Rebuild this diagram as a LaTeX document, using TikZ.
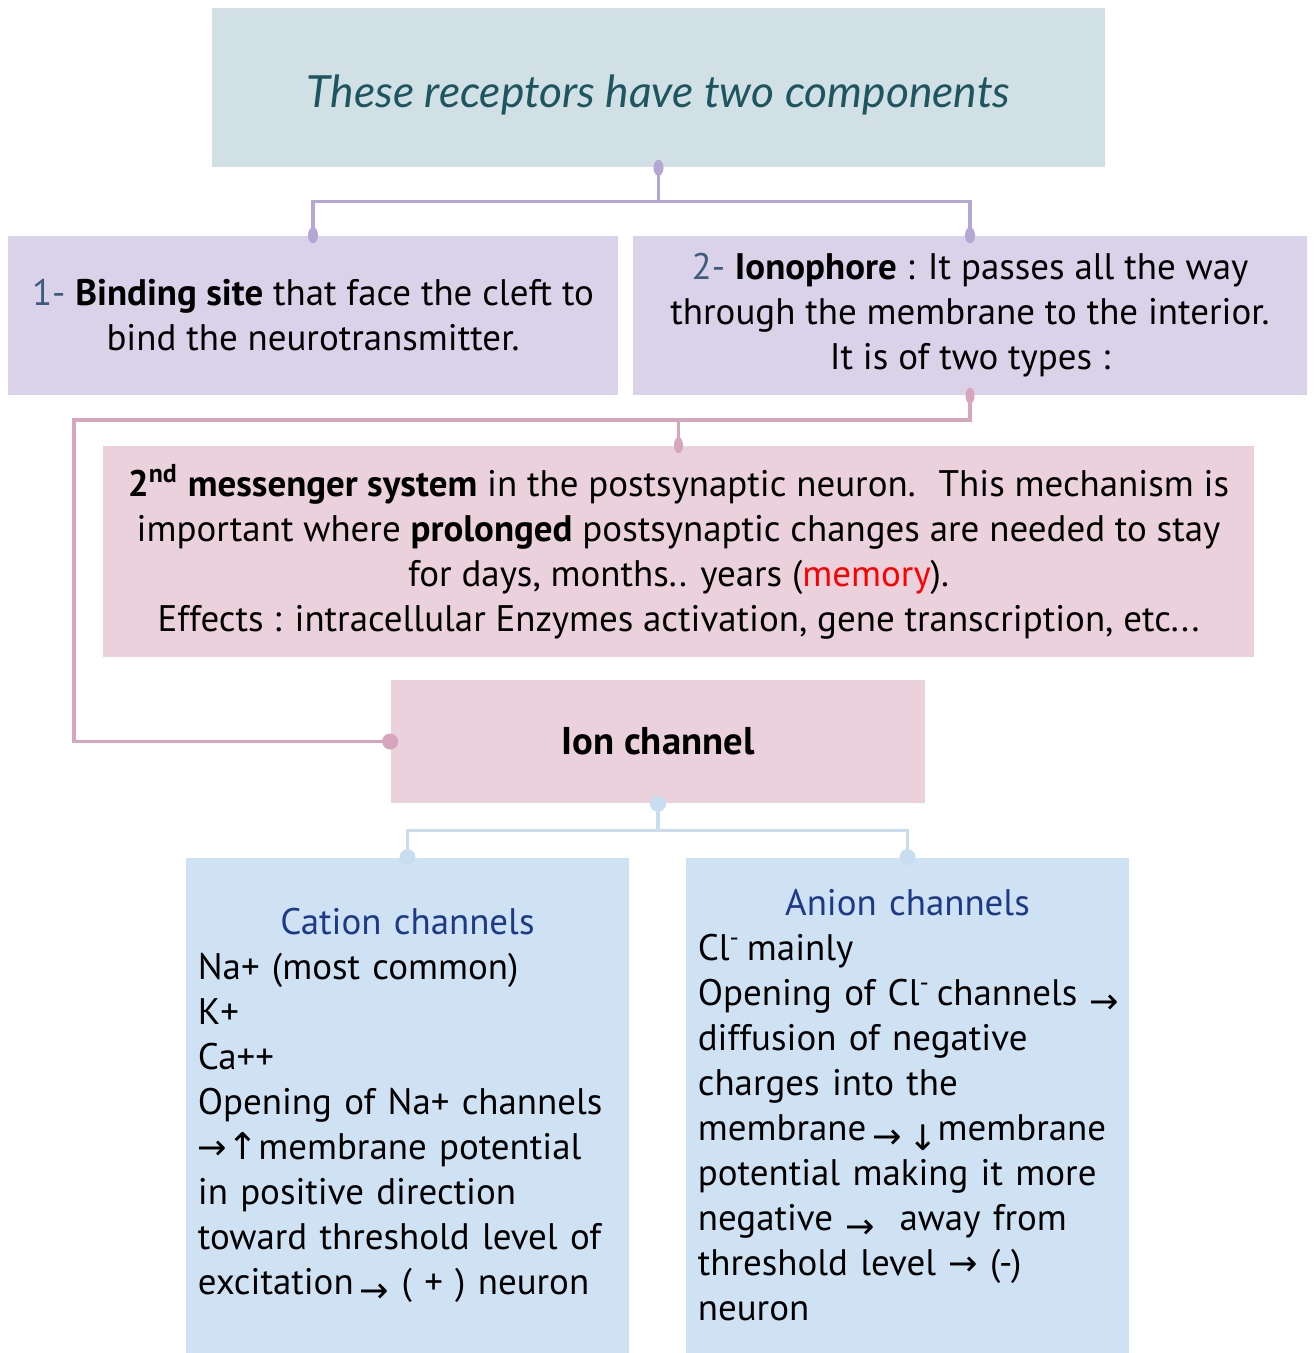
\documentclass[tikz,border=0pt]{standalone}
\usepackage{fontspec}
\setmainfont{PT Sans}
\newfontfamily\headfont{Lato}
\newfontfamily\arrowfont{DejaVu Sans}
\usetikzlibrary{positioning}

\definecolor{headfill}{HTML}{D0E0E4}
\definecolor{headtext}{HTML}{1D5560}
\definecolor{lilacfill}{HTML}{D9D2E9}
\definecolor{lilacline}{HTML}{B4A7D6}
\definecolor{pinkfill}{HTML}{EAD1DC}
\definecolor{pinkline}{HTML}{D5A6BD}
\definecolor{bluefill}{HTML}{CFE2F3}
\definecolor{blueline}{HTML}{C9DDF1}
\definecolor{numcol}{HTML}{3D5C7C}
\definecolor{titlecol}{HTML}{1C3A87}

\newcommand{\arr}{{\arrowfont\fontsize{10pt}{10pt}\selectfont →}}
\newcommand{\lowarr}{\raisebox{-0.4ex}{\arr}}
\newcommand{\uparr}{{\arrowfont\fontsize{10.5pt}{10.5pt}\selectfont ↑}}
\newcommand{\downarr}{\raisebox{-0.5ex}{{\arrowfont\fontsize{10pt}{10pt}\selectfont ↓}}}

\tikzset{
	box/.style={inner sep=0pt, font=\fontsize{10.5pt}{12.8pt}\selectfont},
	listbox/.style={box, fill=bluefill, minimum width=4.43cm, minimum height=4.95cm, inner xsep=0.12cm, text width=4.19cm, align=left},
	wire/.style={line width=0.9pt},
}

\begin{document}
\begin{tikzpicture}[x=0.01cm, y=-0.01cm]
	\useasboundingbox (0,0) rectangle (1315,1353);
	% boxes
	\node[box, fill=headfill, minimum width=8.93cm, minimum height=1.59cm, text height=0.42cm, text depth=0.02cm] (head) at (658.5,87.5)
		{\headfont\itshape\fontsize{12.6pt}{15pt}\selectfont\color{headtext}These receptors have two components};
	\node[box, fill=lilacfill, minimum width=6.10cm, minimum height=1.59cm, align=center] (bind) at (313,315.5)
		{\textcolor{numcol}{1-} \textbf{Binding site} that face the cleft to\\ bind the neurotransmitter.};
	\node[box, fill=lilacfill, minimum width=6.74cm, minimum height=1.59cm, align=center] (iono) at (970,315.5)
		{\textcolor{numcol}{2-} \textbf{Ionophore} : It passes all the way\\ through the membrane to the interior.\\ It is of two types :};
	\node[box, fill=pinkfill, minimum width=11.51cm, minimum height=2.11cm, align=center] (msg) at (678.5,551.5)
		{\textbf{2\textsuperscript{nd} messenger system} in the postsynaptic neuron.~ This mechanism is\\
		important where \textbf{prolonged} postsynaptic changes are needed to stay\\
		for days, months.. years (\textcolor{red}{memory}).\\
		Effects : intracellular Enzymes activation, gene transcription, etc...};
	\node[box, fill=pinkfill, minimum width=5.34cm, minimum height=1.23cm] (ion) at (658,741.5)
		{\fontsize{11pt}{12.8pt}\selectfont\textbf{Ion channel}};
	\node[listbox] (cation) at (407.5,1105.5)
		{\hyphenpenalty=10000\makebox[\linewidth][c]{\color{titlecol}Cation channels}\\
		Na+ (most common)\\
		K+\\
		Ca++\\
		Opening of Na+ channels\\
		\arr\uparr membrane potential\\
		in positive direction\\
		toward threshold level of\\
		excitation\,\lowarr\ ( + ) neuron};
	\node[listbox] (anion) at (907.5,1105.5)
		{\hyphenpenalty=10000\hbadness=10000\hfuzz=20pt\makebox[\linewidth][c]{\color{titlecol}Anion channels}\\
		Cl\textsuperscript{-}\,mainly\\
		\mbox{Opening of Cl\textsuperscript{-}\,channels \lowarr}\\
		diffusion of negative\\
		charges into the\\
		membrane\,\lowarr\,\downarr membrane\\
		potential making it more\\
		negative \lowarr\ \ away from\\
		threshold level \arr\ (-)\\
		neuron};
	% connectors
	\coordinate (elbow) at (74,420);
	\draw[wire, lilacline] (head.south) -- ++(0,34) -| (bind.north);
	\draw[wire, lilacline] (head.south) -- ++(0,34) -| (iono.north);
	\draw[wire, pinkline] (iono.south) |- (elbow) |- (ion.west);
	\draw[wire, pinkline] (iono.south) -- ++(0,25) -| (msg.north);
	\draw[wire, blueline] (ion.south) -- ++(0,27) -| (cation.north);
	\draw[wire, blueline] (ion.south) -- ++(0,27) -| (anion.north);
	% dots
	\foreach \p in {head.south, bind.north, iono.north}
		\fill[lilacline] (\p) ellipse (0.05cm and 0.08cm);
	\foreach \p in {iono.south, msg.north}
		\fill[pinkline] (\p) ellipse (0.045cm and 0.08cm);
	\fill[pinkline] (ion.west) circle (0.08cm);
	\foreach \p in {ion.south, cation.north, anion.north}
		\fill[blueline] (\p) circle (0.08cm);
\end{tikzpicture}
\end{document}
